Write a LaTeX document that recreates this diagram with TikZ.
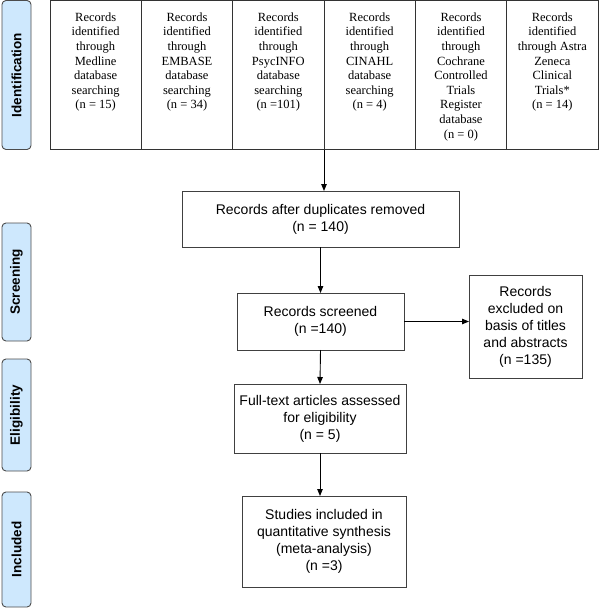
\documentclass[tikz,border=0pt]{standalone}
\usepackage{fontspec}
\setmainfont{Liberation Serif}
\setsansfont{Liberation Sans}
\usetikzlibrary{positioning,arrows.meta}

\definecolor{phaseblue}{RGB}{206,232,253}

\begin{document}
\begin{tikzpicture}[x=1pt,y=-1pt,
	srcbox/.style={draw=black!80, line width=0.9pt, minimum width=91.33pt,
		minimum height=149pt, inner sep=0pt, outer sep=0pt},
	srctext/.style={font=\fontsize{12.5}{14.6}\selectfont, align=center,
		anchor=north, inner sep=0pt},
	flowbox/.style={draw=black!75, line width=0.9pt, align=center, inner sep=0pt,
		outer sep=0pt, font=\sffamily\fontsize{14}{17}\selectfont},
	phase/.style={draw=black!70, fill=phaseblue, line width=0.9pt,
		rounded corners=4pt, rotate=90, minimum height=29pt, inner sep=0pt,
		font=\sffamily\bfseries\fontsize{13.5}{16}\selectfont},
	arr/.style={-{Triangle[length=7pt,width=5.5pt]}, line width=0.9pt}]

	\useasboundingbox (0,0) rectangle (600,608);

	% ---- phases

	\node[phase, minimum width=149pt] (ident) at (16.5,75) {Identification};
	\node[phase, minimum width=118pt] (screen) at (16.5,282) {Screening};
	\node[phase, minimum width=112pt] (elig) at (16.5,415) {Eligibility};
	\node[phase, minimum width=115pt] (incl) at (16.5,549.5) {Included};

	% ---- sources

	\node[srcbox] (src1) at (95.67,75) {};
	\node[srcbox, right=0pt of src1] (src2) {};
	\node[srcbox, right=0pt of src2] (src3) {};
	\node[srcbox, right=0pt of src3] (src4) {};
	\node[srcbox, right=0pt of src4] (src5) {};
	\node[srcbox, right=0pt of src5] (src6) {};

	\node[srctext] at ([yshift=-12pt]src1.north)
		{Records\\identified\\through\\Medline\\database\\searching\\(n = 15)};
	\node[srctext] at ([yshift=-12pt]src2.north)
		{Records\\identified\\through\\EMBASE\\database\\searching\\(n = 34)};
	\node[srctext] at ([yshift=-12pt]src3.north)
		{Records\\identified\\through\\PsycINFO\\database\\searching\\(n =101)};
	\node[srctext] at ([yshift=-12pt]src4.north)
		{Records\\identified\\through\\CINAHL\\database\\searching\\(n = 4)};
	\node[srctext] at ([yshift=-12pt]src5.north)
		{Records\\identified\\through\\Cochrane\\Controlled\\Trials\\Register\\database\\(n = 0)};
	\node[srctext] at ([yshift=-12pt]src6.north)
		{Records\\identified\\through Astra\\Zeneca\\Clinical\\Trials*\\(n = 14)};

	% ---- flow boxes

	\node[flowbox, minimum width=277pt, minimum height=56pt] (dup) at (320.5,219)
		{Records after duplicates removed\\(n = 140)};
	\node[flowbox, minimum width=167pt, minimum height=57pt] (scr) at (320.5,321.5)
		{Records screened\\(n =140)};
	\node[flowbox, minimum width=113pt, minimum height=103pt] (excl) at (525.5,326.5)
		{Records\\excluded on\\basis of titles\\and abstracts\\(n =135)};
	\node[flowbox, minimum width=172pt, minimum height=69pt] (full) at (320,418.5)
		{Full-text articles assessed\\for eligibility\\(n = 5)};
	\node[flowbox, minimum width=164pt, minimum height=91pt] (study) at (324,541.5)
		{Studies included in\\quantitative synthesis\\(meta-analysis)\\(n =3)};

	% ---- arrows

	\draw[arr] (src4.south west) -- (src4.south west |- dup.north);
	\draw[arr] (dup.south) -- (scr.north);
	\draw[arr] (scr.east) -- (scr.east -| excl.west);
	\draw[arr] (scr.south) -- (full.north);
	\draw[arr] (full.south) -- (full.south |- study.north);

\end{tikzpicture}
\end{document}
